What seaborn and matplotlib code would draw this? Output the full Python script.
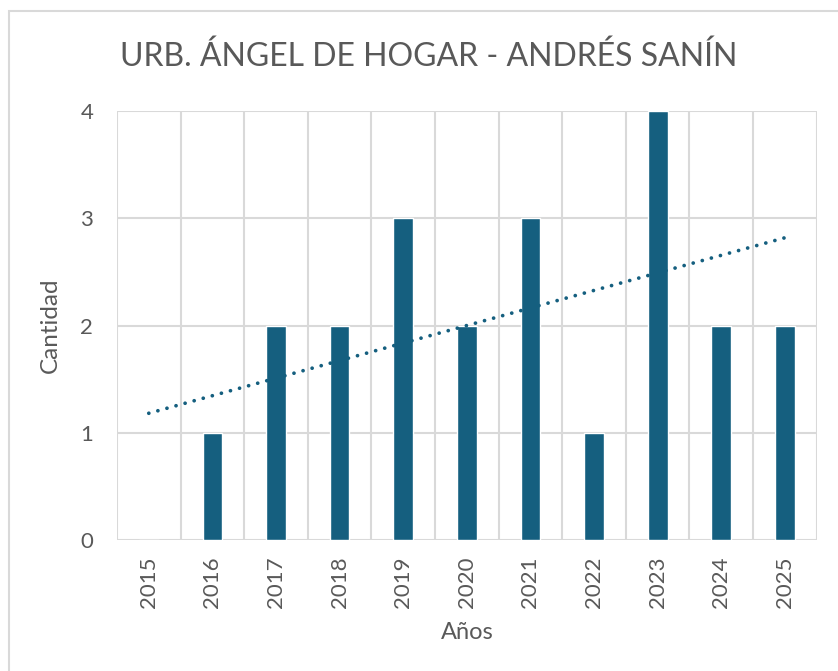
import numpy as np
import pandas as pd
import seaborn as sns
import matplotlib.pyplot as plt
from matplotlib.patches import Rectangle

years = ["2015", "2016", "2017", "2018", "2019", "2020", "2021", "2022", "2023", "2024", "2025"]
counts = [0, 1, 2, 2, 3, 2, 3, 1, 4, 2, 2]

title = "URB. ÁNGEL DE HOGAR - ANDRÉS SANÍN"
bar_color = "#155F7F"
grid_color = "#D9D9D9"
text_color = "#595959"

sns.set_style("white")
plt.rcParams["font.family"] = ["Lato", "DejaVu Sans"]

df = pd.DataFrame({"year": years, "count": counts})

fig = plt.figure(figsize=(8.38, 6.71), dpi=100)
ax = fig.add_axes([0.1396, 0.1952, 0.835, 0.6394])

sns.barplot(data=df, x="year", y="count", color=bar_color, width=0.31,
            saturation=1, ax=ax, zorder=3)

# linear trend line (dotted)
xi = np.arange(len(counts))
slope, intercept = np.polyfit(xi, counts, 1)
ax.plot(xi, slope * xi + intercept, color=bar_color, linestyle=(0, (0.01, 2.5)),
        linewidth=2.7, dash_capstyle="round", zorder=4)

ax.set_xlim(-0.5, len(years) - 0.5)
ax.set_ylim(0, 4)
ax.set_yticks([0, 1, 2, 3, 4])
for b in np.arange(-0.5, len(years), 1.0):
    ax.axvline(b, color=grid_color, linewidth=1.5, zorder=1)
ax.yaxis.grid(True, color=grid_color, linewidth=1.5, zorder=1)
ax.set_axisbelow(True)
for s in ax.spines.values():
    s.set_visible(False)

ax.tick_params(axis="both", length=0, labelsize=16, labelcolor=text_color)
ax.tick_params(axis="x", pad=12, labelrotation=90)
ax.tick_params(axis="y", pad=17)
ax.set_xlabel("Años", fontsize=17, color=text_color, labelpad=10)
ax.set_ylabel("Cantidad", fontsize=17.5, color=text_color, labelpad=14)

fig.text(0.511, 0.915, title, ha="center", va="center", fontsize=23,
         color=text_color)

fig.patches.append(Rectangle((9 / 838, -0.1), 1.2, 1 - 11 / 671 + 0.1,
                             transform=fig.transFigure, fill=False,
                             edgecolor=grid_color, linewidth=1.5))

fig.savefig("out.png", dpi=100)
